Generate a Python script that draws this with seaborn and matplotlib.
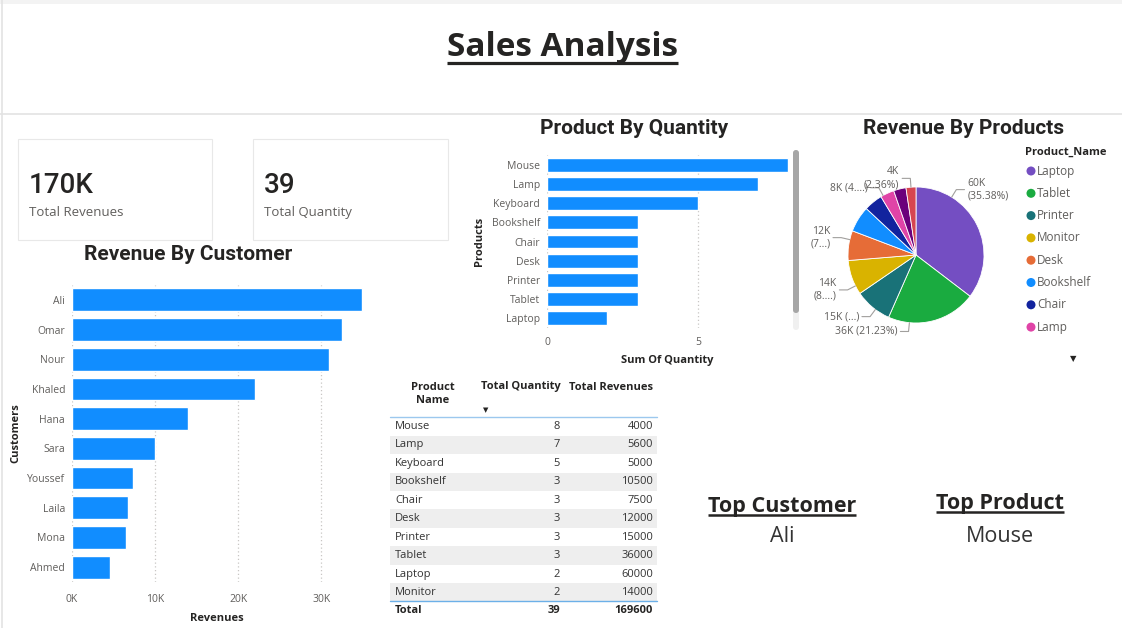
import matplotlib
matplotlib.use("Agg")
import matplotlib.pyplot as plt
import seaborn as sns
import numpy as np
import pandas as pd
from matplotlib.patches import Rectangle, FancyBboxPatch

# ---------------- data ----------------
customers = ["Ali", "Omar", "Nour", "Khaled", "Hana", "Sara", "Youssef", "Laila", "Mona", "Ahmed"]
customer_revenue = [34900, 32500, 31000, 22000, 14000, 10000, 7400, 6700, 6500, 4600]

products = ["Mouse", "Lamp", "Keyboard", "Bookshelf", "Chair", "Desk", "Printer", "Tablet", "Laptop", "Monitor"]
quantities = [8, 7, 5, 3, 3, 3, 3, 3, 2, 2]
revenues = [4000, 5600, 5000, 10500, 7500, 12000, 15000, 36000, 60000, 14000]

pie_labels = {"Laptop": "60K\n(35.38%)", "Tablet": "36K (21.23%)", "Printer": "15K (...)",
              "Monitor": "14K\n(8....)", "Desk": "12K\n(7...)", "Chair": "8K (4....)",
              "Mouse": "4K\n(2.36%)"}

cust_ticks = [0, 10000, 20000, 30000]
cust_tick_labels = ["0K", "10K", "20K", "30K"]
qty_ticks = [0, 5]

# ---------------- style ----------------
BLUE = "#118DFF"
TXT = "#252423"
GRAY = "#605E5C"
GRID = "#C8C6C4"
prod_colors = {"Laptop": "#744EC2", "Tablet": "#1AAB40", "Printer": "#197278", "Monitor": "#D9B300",
               "Desk": "#E66C37", "Bookshelf": "#118DFF", "Chair": "#12239E", "Lamp": "#E044A7",
               "Keyboard": "#6B007B", "Mouse": "#D64550"}

sns.set_theme(style="white")
plt.rcParams["font.family"] = ["Open Sans", "DejaVu Sans"]
TITLE_FONT = ["Roboto", "DejaVu Sans"]

W, H = 1122, 628
fig = plt.figure(figsize=(W / 100, H / 100), dpi=100)
fig.patch.set_facecolor("white")


def ax_px(l, t, w, h):
    return fig.add_axes([l / W, 1 - (t + h) / H, w / W, h / H])


# overlay axes in pixel coordinates
ov = fig.add_axes([0, 0, 1, 1])
ov.set_xlim(0, W)
ov.set_ylim(H, 0)
ov.axis("off")
ov.set_zorder(0)

# header frame
ov.plot([0, W], [114, 114], color="#E3E3E3", lw=1.2)
ov.plot([2, 2], [0, H], color="#E3E3E3", lw=1.2)
ov.add_patch(Rectangle((0, 0), W, 4, color="#F3F3F3", lw=0))


def underline(t, off, lw):
    fig.canvas.draw()
    bb = t.get_window_extent(fig.canvas.get_renderer())
    inv = ov.transData.inverted()
    (x0, _), (x1, _) = inv.transform([[bb.x0, bb.y0], [bb.x1, bb.y1]])
    yb = t.get_position()[1]
    ov.plot([x0, x1], [yb + off, yb + off], color=TXT, lw=lw, solid_capstyle="butt")


t = ov.text(563, 55.5, "Sales Analysis", ha="center", va="baseline", fontsize=24,
            fontweight="bold", color=TXT)
underline(t, 7.5, 2.3)

# KPI cards
total_rev = sum(revenues)
total_qty = sum(quantities)
for (x0, y0, x1, y1), val, lab in [((18, 139, 212, 240), f"{round(total_rev / 1000)}K", "Total Revenues"),
                                   ((253, 139, 448, 240), f"{total_qty}", "Total Quantity")]:
    ov.add_patch(Rectangle((x0, y0), x1 - x0, y1 - y0, facecolor="white", edgecolor="#E8E8E8", lw=0.8))
    ov.text(x0 + 11, 193, val, ha="left", va="baseline", fontsize=20, color=TXT,
            family=TITLE_FONT, fontweight="medium")
    ov.text(x0 + 11, 216, lab, ha="left", va="baseline", fontsize=9.5, color=GRAY)

# ---------------- Revenue by customer ----------------
ov.text(188, 254, "Revenue By Customer", ha="center", va="center", fontsize=15,
        fontweight="bold", color=TXT, family=TITLE_FONT)
df_c = pd.DataFrame({"Customer": customers, "Revenue": customer_revenue})
ax1 = ax_px(72, 285, 299, 297)
sns.barplot(data=df_c, x="Revenue", y="Customer", orient="h", color=BLUE, saturation=1,
            width=0.77, ax=ax1)
ax1.set_xlim(0, 36000)
ax1.set_ylim(len(customers) - 0.5, -0.5)
ax1.set_xticks(cust_ticks)
ax1.set_xticklabels(cust_tick_labels)
ax1.xaxis.grid(True, color=GRID, ls=(0, (1, 2)), lw=0.9)
ax1.set_axisbelow(True)
for s in ax1.spines.values():
    s.set_visible(False)
ax1.tick_params(axis="x", length=0, pad=9, labelsize=7.5, labelcolor=GRAY)
ax1.tick_params(axis="y", length=0, pad=5, labelsize=7.5, labelcolor=GRAY)
ax1.set_xlabel("Revenues", fontsize=8, fontweight="bold", color=TXT)
ax1.set_ylabel("Customers", fontsize=8, fontweight="bold", color=TXT)
ax1.xaxis.set_label_coords(0.485, -0.106)
ax1.yaxis.set_label_coords(-0.168, 0.5)
ax1.patch.set_alpha(0)

# ---------------- Product by quantity ----------------
ov.text(634, 128, "Product By Quantity", ha="center", va="center", fontsize=15,
        fontweight="bold", color=TXT, family=TITLE_FONT)
df_p = pd.DataFrame({"Product": products, "Quantity": quantities})
ax2 = ax_px(547, 155.4, 243, 172.2)
sns.barplot(data=df_p, x="Quantity", y="Product", orient="h", color=BLUE, saturation=1,
            width=0.73, ax=ax2)
ax2.set_xlim(0, 8.05)
ax2.set_ylim(8.5, -0.5)  # scrolled view: 9 rows visible
ax2.set_xticks(qty_ticks)
ax2.xaxis.grid(True, color=GRID, ls=(0, (1, 2)), lw=0.9)
ax2.set_axisbelow(True)
for s in ax2.spines.values():
    s.set_visible(False)
ax2.tick_params(axis="x", length=0, pad=7, labelsize=7.5, labelcolor=GRAY)
ax2.tick_params(axis="y", length=0, pad=5, labelsize=7.5, labelcolor=GRAY)
ax2.set_xlabel("Sum Of Quantity", fontsize=8, fontweight="bold", color=TXT)
ax2.set_ylabel("Products", fontsize=8, fontweight="bold", color=TXT)
ax2.xaxis.set_label_coords(0.494, -0.157)
ax2.yaxis.set_label_coords(-0.257, 0.5)
ax2.patch.set_alpha(0)
# scrollbar
ov.add_patch(FancyBboxPatch((793, 150), 6, 180, boxstyle="round,pad=0,rounding_size=3",
                            facecolor="#F0F0F0", edgecolor="none"))
ov.add_patch(FancyBboxPatch((793, 150), 6, 163, boxstyle="round,pad=0,rounding_size=3",
                            facecolor="#A6A6A6", edgecolor="none"))

# ---------------- Revenue by products (pie) ----------------
ov.text(964, 128, "Revenue By Products", ha="center", va="center", fontsize=15,
        fontweight="bold", color=TXT, family=TITLE_FONT)
df_r = pd.DataFrame({"Product": products, "Revenue": revenues}).sort_values("Revenue", ascending=False)
ax3 = ax_px(848, 187, 136, 136)
wedges, _ = ax3.pie(df_r["Revenue"], colors=[prod_colors[p] for p in df_r["Product"]],
                    startangle=90, counterclock=False, radius=1,
                    wedgeprops=dict(edgecolor="white", linewidth=0.6))
ax3.set_xlim(-1, 1)
ax3.set_ylim(-1, 1)
ax3.set_aspect("equal")
ax3.axis("off")
angle_shift = {"Laptop": 32, "Tablet": -20, "Printer": 3, "Monitor": 7.5, "Desk": -5, "Chair": -10, "Mouse": 0}
for w, name in zip(wedges, df_r["Product"]):
    if name not in pie_labels:
        continue
    a = np.deg2rad((w.theta1 + w.theta2) / 2 + angle_shift.get(name, 0))
    c, s = np.cos(a), np.sin(a)
    side = 1 if c > 0.05 else -1
    p0 = (c * 1.0, s * 1.0)
    p1 = (c * 1.13, s * 1.13)
    p2 = (p1[0] + side * 0.12, p1[1])
    ax3.plot([p0[0], p1[0], p2[0]], [p0[1], p1[1], p2[1]], color="#A19F9D", lw=0.8, clip_on=False)
    ax3.text(p2[0] + side * 0.04, p2[1], pie_labels[name], ha="left" if side > 0 else "right",
             va="center", fontsize=7.5, color=GRAY, linespacing=1.25, clip_on=False)

# legend (scrolled: first 8 visible)
ov.text(1025, 152, "Product_Name", ha="left", va="center", fontsize=8, fontweight="bold", color=TXT)
for i, name in enumerate(list(df_r["Product"])[:8]):
    y = 171 + 22.3 * i
    ov.scatter([1031], [y], s=42, color=prod_colors[name], edgecolors="none")
    ov.text(1037, y, name, ha="left", va="center", fontsize=8.5, color=GRAY)
ov.text(1073, 360, "▼", ha="center", va="center", fontsize=6, color=TXT)

# ---------------- Table ----------------
TX0, TX1 = 390, 657
ov.text(433, 394, "Product\nName", ha="center", va="center", fontsize=8, fontweight="bold",
        color=TXT, linespacing=1.3)
ov.text(521, 387, "Total Quantity", ha="center", va="center", fontsize=8, fontweight="bold", color=TXT)
ov.text(611, 387, "Total Revenues", ha="center", va="center", fontsize=8, fontweight="bold", color=TXT)
ov.text(486, 411, "▼", ha="center", va="center", fontsize=5, color=TXT)
ov.plot([TX0, TX1], [417, 417], color="#9CC8EE", lw=1)
step = 18.44
for i, (p, q, r) in enumerate(zip(products, quantities, revenues)):
    yc = 426.5 + step * i
    if i % 2 == 1:
        ov.add_patch(Rectangle((TX0, yc - step / 2), TX1 - TX0, step, facecolor="#EEEEEE", edgecolor="none"))
    ov.text(395, yc, p, ha="left", va="center", fontsize=8, color="#333333")
    ov.text(560, yc, str(q), ha="right", va="center", fontsize=8, color="#333333")
    ov.text(653, yc, str(r), ha="right", va="center", fontsize=8, color="#333333")
ov.plot([TX0, TX1], [601, 601], color="#6CB0E8", lw=1)
ov.text(395, 610.5, "Total", ha="left", va="center", fontsize=8, fontweight="bold", color=TXT)
ov.text(560, 610.5, str(total_qty), ha="right", va="center", fontsize=8, fontweight="bold", color=TXT)
ov.text(653, 610.5, str(total_rev), ha="right", va="center", fontsize=8, fontweight="bold", color=TXT)

# ---------------- Top customer / product ----------------
top_customer = customers[int(np.argmax(customer_revenue))]
top_product = products[int(np.argmax(quantities))]
t1 = ov.text(782, 512, "Top Customer", ha="center", va="baseline", fontsize=15.5,
             fontweight="bold", color=TXT)
underline(t1, 3, 1.8)
ov.text(782, 542, top_customer, ha="center", va="baseline", fontsize=15.5, color="#333333")
t2 = ov.text(1000, 509, "Top Product", ha="center", va="baseline", fontsize=15.5,
             fontweight="bold", color=TXT)
underline(t2, 3, 1.8)
ov.text(1000, 542, top_product, ha="center", va="baseline", fontsize=15.5, color="#333333")

fig.savefig("out.png", dpi=100, facecolor="white")
